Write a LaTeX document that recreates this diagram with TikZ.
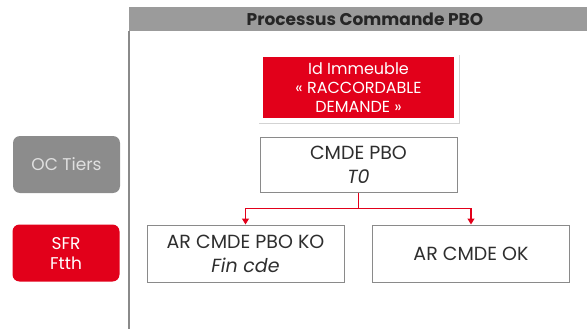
\documentclass[tikz,border=0pt]{standalone}
\usepackage{fontspec}
\setmainfont{Poppins}
\usetikzlibrary{arrows.meta,calc,shadows}
\definecolor{sfrred}{HTML}{E2001A}
\definecolor{hdrgray}{HTML}{9B9B9B}
\definecolor{boxline}{HTML}{8A8A8A}
\definecolor{txt}{HTML}{2E2E2E}
\definecolor{ocgray}{HTML}{8C8C8C}
\begin{document}
\begin{tikzpicture}[x=1pt,y=-1pt,
  stepbox/.style={draw=boxline,line width=1pt,fill=white,minimum width=197pt,minimum height=57pt,align=center,text=txt,font=\fontsize{19}{24}\selectfont,inner sep=0pt},
  actor/.style={rounded corners=7pt,minimum width=107pt,minimum height=57pt,align=center,inner sep=0pt,font=\fontsize{17}{20}\selectfont},
  arr/.style={draw=sfrred,line width=1.2pt,-{Triangle[length=6pt,width=7pt]}}]
\useasboundingbox (0,0) rectangle (587,329);
% header
\node[fill=hdrgray,minimum width=458pt,minimum height=24pt,inner sep=0pt,anchor=north west,text=black!85] (hdr) at (129,7) {};
\node[font=\bfseries\fontsize{17}{18}\selectfont,text=black!85,inner sep=0pt] (hdrt) at (365,19.5) {Processus Commande PBO};
\coordinate (vtop) at (129,31);
\coordinate (vbot) at (129,329);
\draw[boxline,line width=1.2pt] (vtop) -- (vbot);
% red building node
\node[fill=white,drop shadow={shadow xshift=1pt,shadow yshift=-1.5pt,opacity=0.35},minimum width=201pt,minimum height=69pt,inner sep=0pt] (idw) at (358.5,88.5) {};
\node[fill=sfrred,minimum width=191pt,minimum height=61pt,inner sep=0pt,align=center,text=white,font=\fontsize{16}{19}\selectfont] (id) at (358.5,87.5) {Id Immeuble\\« RACCORDABLE\\DEMANDE »};
% steps
\node[stepbox,minimum height=55pt] (cmde) at (358.5,164.5) {CMDE PBO\\\textit{T0}};
\node[stepbox] (ko) at (245.5,253.5) {AR CMDE PBO KO\\\textit{Fin cde}};
\node[stepbox] (ok) at (471,253.5) {AR CMDE OK};
% actors
\node[actor,fill=ocgray,text=white!88!black] (oc) at (66.5,164.5) {OC Tiers};
\node[actor,fill=sfrred,text=white] (sfr) at (66,253) {SFR\\Ftth};
% connectors
\coordinate (j) at ($(cmde.south)+(0,16)$);
\draw[sfrred,line width=1.2pt] (cmde.south) -- (j);
\draw[arr] (j) -| (ko.north);
\draw[arr] (j) -| (ok.north);
\end{tikzpicture}
\end{document}
